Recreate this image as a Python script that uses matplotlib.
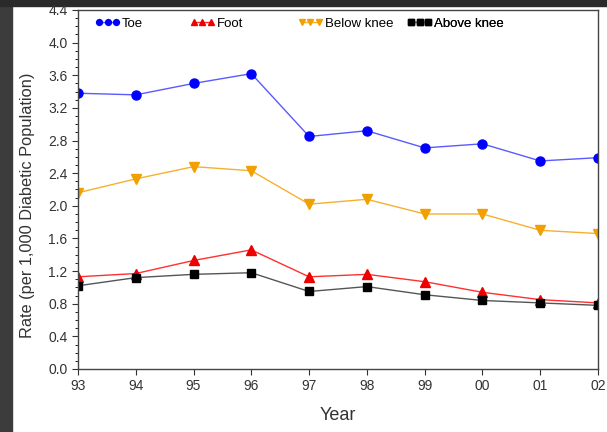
import matplotlib
matplotlib.use("Agg")
from matplotlib import pyplot as plt
from matplotlib.patches import Rectangle
from matplotlib.ticker import MultipleLocator

plt.rcParams['font.family'] = ['Liberation Sans', 'DejaVu Sans']

years = ['93', '94', '95', '96', '97', '98', '99', '00', '01', '02']
toe = [3.38, 3.36, 3.50, 3.62, 2.85, 2.92, 2.71, 2.76, 2.55, 2.59]
foot = [1.13, 1.17, 1.33, 1.46, 1.13, 1.16, 1.07, 0.94, 0.85, 0.81]
below_knee = [2.16, 2.33, 2.48, 2.43, 2.02, 2.08, 1.90, 1.90, 1.70, 1.66]
above_knee = [1.02, 1.12, 1.16, 1.18, 0.95, 1.01, 0.91, 0.84, 0.81, 0.78]

fig = plt.figure(figsize=(6.07, 4.32), dpi=100)
fig.patch.set_facecolor('white')

# dark frame strips of the slide
fig.add_artist(Rectangle((0, 0), 12 / 607, 1, transform=fig.transFigure,
                         color='#3c3c3c', zorder=0))
fig.add_artist(Rectangle((0, 1 - 6 / 432), 1, 6 / 432, transform=fig.transFigure,
                         color='#2a2a2a', zorder=0))

ax = fig.add_axes([78 / 607, 63 / 432, 520 / 607, 359 / 432])
x = list(range(len(years)))

lines = []
lines += ax.plot(x, toe, color='#5a5aff', lw=1.0, marker='o', ms=6.5,
                 mfc='#0000ff', mec='#0000ff', label='Toe')
lines += ax.plot(x, foot, color='#ff3030', lw=1.0, marker='^', ms=7,
                 mfc='#ee0000', mec='#ee0000', label='Foot')
lines += ax.plot(x, below_knee, color='#f5b030', lw=1.0, marker='v', ms=7,
                 mfc='#f0a000', mec='#f0a000', label='Below knee')
lines += ax.plot(x, above_knee, color='#555555', lw=1.0, marker='s', ms=6,
                 mfc='black', mec='black', label='Above knee')

ax.set_xlim(0, len(years) - 1)
ax.set_ylim(0, 4.4)
ax.set_xticks(x)
ax.set_xticklabels(years)
ax.yaxis.set_major_locator(MultipleLocator(0.4))
ax.yaxis.set_minor_locator(MultipleLocator(0.1))
ax.set_yticklabels([f'{v:.1f}' for v in ax.get_yticks()])
ax.tick_params(axis='both', labelsize=10, colors='#333333', length=4, width=0.8)
ax.tick_params(axis='y', which='minor', length=2, width=0.6)

for s in ax.spines.values():
    s.set_color('#444444')
    s.set_linewidth(1.0)

ax.set_ylabel('Rate (per 1,000 Diabetic Population)', fontsize=11.8, color='#333333')
ax.yaxis.set_label_coords(-0.082, 0.455)
ax.set_xlabel('Year', fontsize=13, color='#333333', labelpad=10)

# legend entries sit at their own spots along the top
legend_x = [0.033, 0.215, 0.423, 0.633]
for ln, lx in zip(lines, legend_x):
    leg = ax.legend([ln], [ln.get_label()], loc='upper left',
                    bbox_to_anchor=(lx, 0.979), frameon=False, numpoints=3,
                    markerscale=0.65, handlelength=1.9, handletextpad=0.15,
                    borderpad=0, borderaxespad=0, fontsize=9.5)
    for h in leg.legend_handles:
        h.set_linestyle('-')
    ax.add_artist(leg)

fig.savefig('out.png', dpi=100, facecolor='white')
